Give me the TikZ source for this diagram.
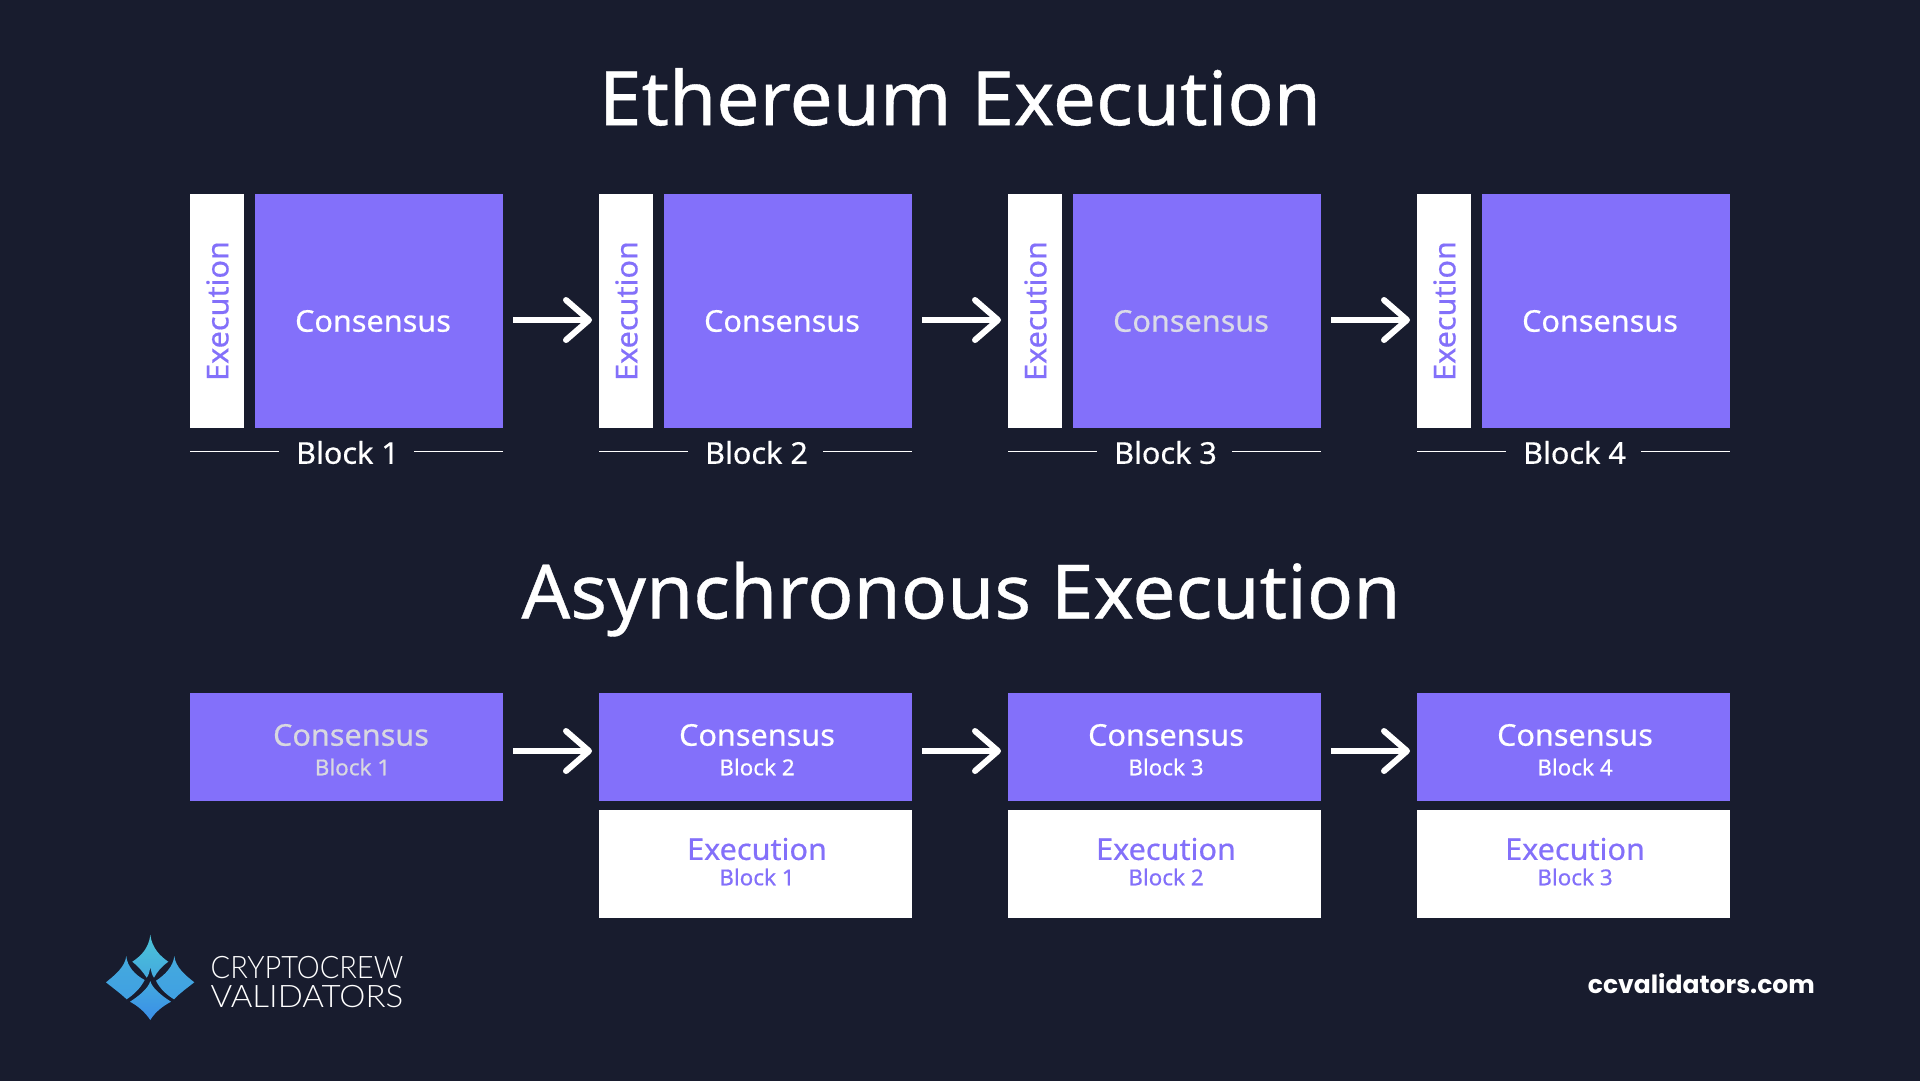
\documentclass[tikz,border=0pt]{standalone}
\usepackage{fontspec}
\usetikzlibrary{arrows.meta}
\setmainfont{Noto Sans}[RawFeature={embolden=0.5},FakeStretch=1.02]
\newfontfamily\footfont{Poppins}
\newfontfamily\logofont{Lato Light}
\definecolor{bgc}{HTML}{181C2E}
\definecolor{vio}{HTML}{8370FA}
\definecolor{dimA}{HTML}{DADAE8}
\definecolor{dimB}{HTML}{D8D8E0}
\definecolor{lgA}{RGB}{76,196,216}
\definecolor{lgB}{RGB}{68,170,222}
\definecolor{lgC}{RGB}{64,160,226}
\definecolor{lgD}{RGB}{58,142,232}
\tikzset{
  x=1pt,y=-1pt,
  boxv/.style={fill=vio,inner sep=0pt,outer sep=0pt,anchor=north west},
  boxw/.style={fill=white,inner sep=0pt,outer sep=0pt,anchor=north west},
  title/.style={text=white,font=\fontsize{75}{75}\selectfont,inner sep=0pt},
  big/.style={font=\fontsize{30}{30}\selectfont,inner sep=0pt},
  small/.style={font=\fontsize{22}{22}\selectfont,inner sep=0pt},
  blk/.style={text=white,font=\fontsize{30}{30}\selectfont,inner sep=0pt},
  rule/.style={draw=white,line width=1.3pt},
  flow/.style={draw=white,line width=6pt,-{Straight Barb[length=23pt,width=40pt,line width=6pt,round]}},
  logotext/.style={anchor=west,inner sep=0pt,text=white,font=\logofont\fontsize{31}{31}\selectfont},
}
\begin{document}
\begin{tikzpicture}
\useasboundingbox (0,0) rectangle (1920,1080);
\fill[bgc] (-5,-5) rectangle (1925,1085);
\node[title] (t1) at (960,97) {Ethereum Execution};
\node[title] (t2) at (961,599) {Asynchronous Execution};
% top row
\foreach \i/\x/\cc in {1/190/white,2/599/white,3/1008/dimA,4/1417/white}{
  \node[boxw,minimum width=54pt,minimum height=234pt] (e\i) at (\x,194) {};
  \node[boxv,minimum width=248pt,minimum height=234pt] (c\i) at (\x+65,194) {};
  \node[big,text=vio,rotate=90] (et\i) at (\x+27.5,311) {Execution};
  \node[big,text=\cc] (ct\i) at (\x+183,321) {Consensus};
  \node[blk] (b\i) at (\x+157.5,452.5) {Block \i};
  \coordinate (la\i) at (\x,451.5);
  \coordinate (lb\i) at (\x+89,451.5);
  \coordinate (lc\i) at (\x+224,451.5);
  \coordinate (ld\i) at (\x+313,451.5);
  \draw[rule] (la\i) -- (lb\i);
  \draw[rule] (lc\i) -- (ld\i);
}
\foreach \i/\j in {1/2,2/3,3/4}{
  \draw[flow] ([xshift=10pt,yshift=-9pt]c\i.east) -- ([xshift=-7pt,yshift=-9pt]e\j.west);
}
% bottom row
\foreach \i/\x/\cc/\dx/\sx in {1/190/dimB/161/162.5,2/599/white/158/158,3/1008/white/158/158,4/1417/white/158/158}{
  \node[boxv,minimum width=313pt,minimum height=108pt] (d\i) at (\x,693) {};
  \node[big,text=\cc] (dt\i) at (\x+\dx,735) {Consensus};
  \node[small,text=\cc] (ds\i) at (\x+\sx,767) {Block \i};
}
\foreach \i/\x/\n in {2/599/1,3/1008/2,4/1417/3}{
  \node[boxw,minimum width=313pt,minimum height=108pt] (x\i) at (\x,810) {};
  \node[big,text=vio] (xt\i) at (\x+158,849) {Execution};
  \node[small,text=vio] (xs\i) at (\x+158,877) {Block \n};
}
\foreach \i/\j in {1/2,2/3,3/4}{
  \draw[flow] ([xshift=10pt,yshift=-4pt]d\i.east) -- ([xshift=-7pt,yshift=-4pt]d\j.west);
}
% logo
\shade[top color=lgA,bottom color=lgB]
  (150.3,934.7) .. controls (152,948) and (160,956) .. (168.3,961.7)
  .. controls (162,966) and (157,972) .. (154,977.7)
  .. controls (152,975) and (151,971) .. (150.3,967.3)
  .. controls (149.6,971) and (149,975) .. (146.7,977.7)
  .. controls (143,972) and (138,966) .. (132.3,961.7)
  .. controls (141,956) and (149,948) .. (150.3,934.7) -- cycle;
\shade[top color=lgB,bottom color=lgC]
  (126.3,956) .. controls (127,966) and (135,975) .. (144.7,980)
  .. controls (140,989) and (133,995) .. (126.7,999.3)
  .. controls (120,993) and (113,988) .. (106,982.3)
  .. controls (115,975) and (125,967) .. (126.3,956) -- cycle;
\shade[top color=lgB,bottom color=lgC]
  (174.3,956) .. controls (175.5,967) and (185,975) .. (194.3,982.3)
  .. controls (187,988) and (180,993) .. (174,999.3)
  .. controls (167,995) and (160,989) .. (156,980.7)
  .. controls (165,975) and (173.5,966) .. (174.3,956) -- cycle;
\shade[top color=lgB,bottom color=lgD]
  (150.3,981) .. controls (152,988) and (162,996) .. (171,1001.7)
  .. controls (163,1006) and (155,1012) .. (150.3,1020)
  .. controls (145,1012) and (138,1006) .. (130,1001.7)
  .. controls (139,996) and (148.6,988) .. (150.3,981) -- cycle;
\node[logotext] (l1) at (210.5,968) {\resizebox{192.5pt}{\height}{CRYPTOCREW}};
\node[logotext] (l2) at (210.5,997) {\resizebox{192.5pt}{\height}{VALIDATORS}};
\node[anchor=east,inner sep=0pt,text=white,font=\footfont\bfseries\fontsize{25}{25}\selectfont] (url) at (1815,984) {ccvalidators.com};
\end{tikzpicture}
\end{document}
